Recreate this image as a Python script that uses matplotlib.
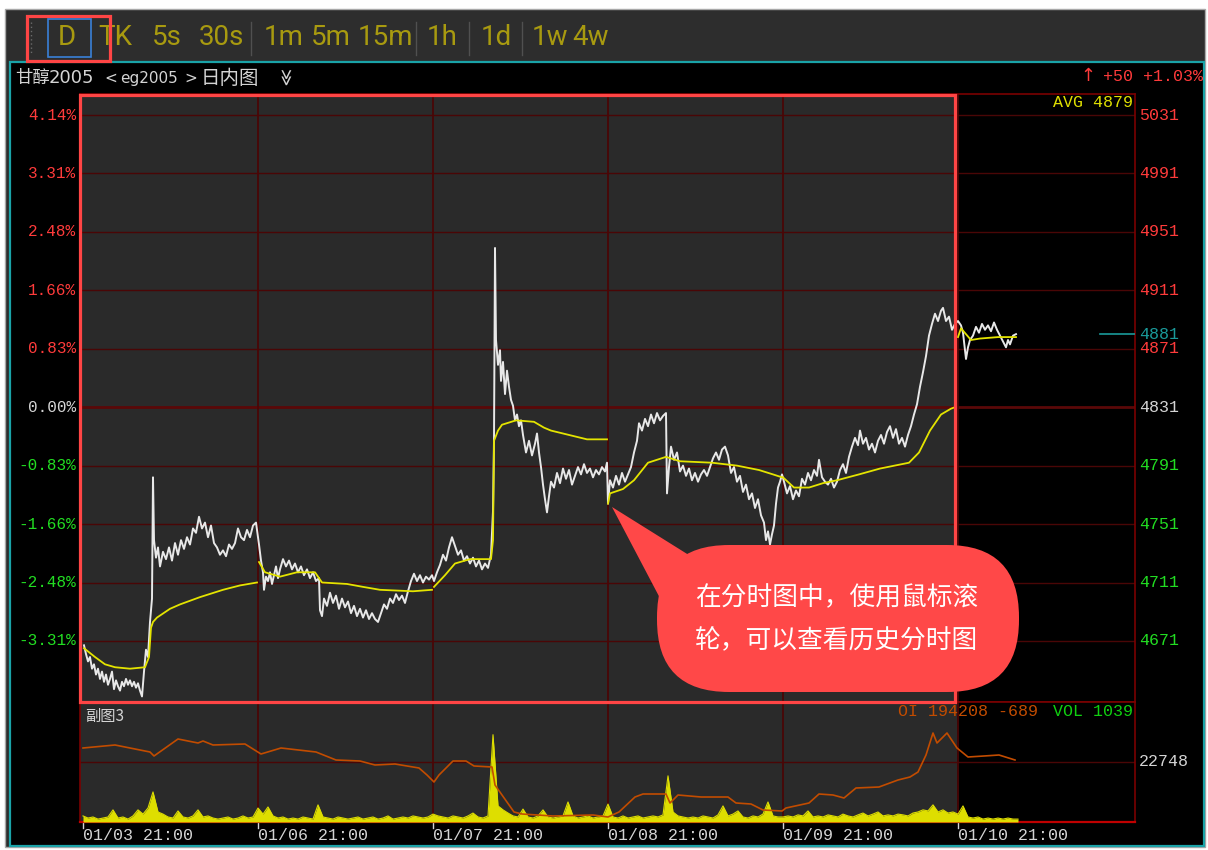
import numpy as np
import matplotlib
matplotlib.use('Agg')
import matplotlib.pyplot as plt
from matplotlib.patches import Rectangle, FancyBboxPatch, Polygon
from matplotlib.transforms import blended_transform_factory as blend

# ---------------- data ----------------
prev_settle = 4831
day_len = 350          # minutes per trading session on the time axis
day_labels = ['01/03 21:00', '01/06 21:00', '01/07 21:00',
              '01/08 21:00', '01/09 21:00', '01/10 21:00']
grid_prices = [4671, 4711, 4751, 4791, 4831, 4871, 4911, 4951, 4991, 5031]

# (minute offset within session, price)
price_d1 = [(2,4668),(6,4662),(10,4657),(14,4660),(18,4652),(22,4655),(26,4648),(30,4652),
            (34,4645),(38,4650),(42,4643),(46,4648),(50,4641),(54,4645),(58,4650),(62,4638),
            (66,4644),(70,4640),(74,4637),(78,4643),(82,4640),(86,4645),(90,4641),(94,4644),
            (98,4640),(102,4643),(106,4639),(110,4642),(114,4637),(118,4633),(122,4650),
            (126,4665),(130,4660),(134,4684),(138,4700),(140,4783),(142,4740),(146,4728),
            (150,4735),(154,4722),(160,4732),(166,4727),(172,4735),(178,4726),(184,4738),
            (190,4730),(196,4740),(202,4734),(208,4742),(214,4737),(220,4748),(226,4745),
            (232,4756),(238,4748),(244,4752),(250,4742),(256,4750),(262,4738),(268,4735),
            (274,4730),(280,4733),(286,4729),(292,4737),(298,4734),(304,4738),(310,4748),
            (316,4742),(322,4740),(328,4747),(334,4742),(340,4750),(346,4752)]
price_d2 = [(2,4737),(6,4726),(10,4718),(12,4706),(16,4715),(20,4712),(24,4718),(28,4710),
            (32,4716),(36,4722),(40,4714),(44,4720),(50,4727),(56,4722),(62,4726),(68,4720),
            (74,4724),(80,4718),(86,4722),(92,4716),(98,4720),(104,4714),(110,4718),(116,4712),
            (122,4714),(124,4692),(128,4688),(132,4700),(138,4695),(144,4704),(150,4697),
            (156,4702),(162,4693),(168,4700),(174,4694),(180,4698),(186,4690),(192,4695),
            (198,4688),(204,4693),(210,4687),(216,4692),(222,4686),(228,4690),(234,4686),
            (240,4684),(246,4690),(252,4696),(258,4693),(264,4700),(270,4697),(276,4703),
            (282,4699),(288,4702),(294,4697),(300,4705),(306,4712),(312,4717),(318,4712),
            (324,4716),(330,4711),(336,4715),(342,4713),(348,4716)]
price_d3 = [(2,4712),(8,4718),(14,4723),(20,4730),(26,4726),(32,4735),(38,4742),(44,4736),
            (50,4730),(56,4733),(62,4726),(68,4729),(74,4724),(80,4728),(86,4722),(92,4726),
            (98,4720),(104,4724),(110,4721),(116,4730),(120,4760),(122,4808),(124,4940),
            (126,4877),(130,4860),(134,4870),(136,4849),(140,4862),(144,4840),(148,4856),
            (152,4845),(156,4836),(160,4832),(164,4822),(168,4826),(172,4818),(176,4822),
            (180,4812),(186,4800),(192,4808),(198,4798),(204,4806),(208,4813),(212,4800),
            (216,4790),(220,4778),(224,4768),(228,4759),(232,4770),(236,4780),(242,4776),
            (248,4786),(254,4779),(260,4789),(266,4782),(272,4788),(278,4778),(284,4784),
            (290,4790),(296,4785),(302,4792),(308,4786),(314,4789),(320,4783),(326,4788),
            (332,4785),(338,4790),(344,4787),(348,4793)]
price_d4 = [(0,4765),(4,4781),(10,4776),(16,4784),(22,4778),(28,4786),(34,4780),(40,4785),
            (46,4790),(52,4800),(58,4808),(62,4820),(68,4815),(74,4823),(80,4818),(86,4826),
            (92,4820),(98,4827),(104,4822),(110,4825),(116,4827),(118,4772),(122,4790),
            (126,4804),(132,4795),(138,4800),(144,4787),(150,4791),(156,4784),(162,4789),
            (168,4781),(174,4786),(180,4780),(186,4785),(192,4788),(198,4784),(204,4790),
            (210,4796),(216,4800),(222,4795),(228,4802),(234,4804),(240,4798),(246,4786),
            (252,4790),(258,4780),(264,4784),(270,4773),(276,4778),(282,4768),(288,4772),
            (294,4762),(300,4768),(306,4757),(312,4752),(316,4740),(320,4746),(324,4737),
            (328,4744),(332,4750),(336,4765),(340,4776),(344,4780),(348,4785)]
price_d5 = [(2,4780),(8,4772),(14,4777),(20,4768),(26,4774),(32,4770),(38,4782),(44,4778),
            (50,4786),(56,4781),(62,4788),(68,4784),(72,4795),(78,4783),(84,4780),(90,4778),
            (96,4782),(102,4776),(108,4780),(114,4788),(120,4792),(126,4786),(132,4797),
            (138,4804),(144,4810),(150,4805),(154,4815),(160,4806),(166,4810),(172,4802),
            (178,4806),(184,4800),(190,4808),(196,4812),(202,4806),(208,4814),(214,4818),
            (220,4810),(226,4816),(232,4806),(238,4810),(244,4804),(250,4812),(256,4818),
            (262,4826),(268,4833),(274,4845),(280,4855),(286,4866),(292,4880),(298,4888),
            (304,4895),(310,4890),(316,4897),(320,4899),(326,4890),(332,4893),(338,4884),
            (344,4888)]
price_d6 = [(0,4890),(6,4887),(10,4882),(14,4870),(16,4864),(20,4872),(24,4877),(30,4880),
            (36,4886),(42,4882),(48,4888),(54,4884),(60,4887),(66,4883),(72,4889),(78,4884),
            (84,4880),(90,4876),(96,4872),(100,4877),(104,4874),(110,4880),(116,4881)]

# daily average price line (minute offset, price)
avg_d1 = [(2,4666),(24,4660),(44,4655),(64,4653),(94,4652),(124,4653),(132,4660),(136,4680),
          (140,4684),(148,4687),(174,4693),(194,4696),(234,4701),(280,4706),(314,4709),(348,4711)]
avg_d2 = [(2,4725),(14,4718),(44,4715),(78,4718),(114,4718),(128,4711),(178,4710),(210,4708),
          (244,4706),(310,4705),(348,4706)]
avg_d3 = [(2,4708),(24,4716),(44,4724),(74,4727),(116,4727),(120,4740),(122,4808),(130,4815),
          (138,4819),(166,4822),(202,4821),(222,4817),(236,4815),(272,4812),(308,4809),(348,4809)]
avg_d4 = [(0,4765),(4,4772),(30,4775),(52,4781),(80,4793),(116,4797),(144,4794),(208,4793),
          (258,4791),(302,4788),(330,4785),(348,4783)]
avg_d5 = [(0,4783),(22,4776),(52,4776),(80,4779),(108,4781),(152,4785),(194,4789),(252,4793),
          (272,4800),(294,4815),(316,4826),(336,4830),(344,4831)]
avg_d6 = [(0,4879),(6,4885),(16,4881),(26,4877),(44,4878),(80,4879),(116,4879)]

# open interest (global minute, contracts)
open_interest = [(0,195400),(64,195700),(134,195000),(142,194600),(190,196300),(230,195900),
                 (240,196100),(260,195700),(324,195800),(356,194800),(396,195400),(466,195000),
                 (506,194200),(554,194100),(584,193700),(624,193800),(672,193400),(688,192700),
                 (702,192000),(712,192700),(740,194100),(766,194100),(782,193600),(818,193500),
                 (824,191700),(838,190700),(862,189000),(878,188800),(940,188600),(1020,188700),
                 (1050,188500),(1072,189000),(1104,190500),(1120,190800),(1166,190800),
                 (1174,189900),(1190,190700),(1236,190500),(1290,190500),(1306,189900),
                 (1336,189800),(1360,189200),(1398,189100),(1406,189400),(1452,189900),
                 (1472,190800),(1500,190700),(1522,190400),(1546,191400),(1592,191500),
                 (1630,192200),(1654,192500),(1670,193000),(1686,194700),(1700,196900),
                 (1708,195900),(1728,196900),(1748,195400),(1770,194500),(1802,194600),
                 (1832,194700),(1864,194200)]

# volume per 10-minute bin, in hundreds of lots
vol_bin = 10
volume_h = [23,15,19,11,15,19,46,15,19,11, 23,46,30,53,114,38,30,19,15,42,
            19,15,23,46,19,23,15,11,15,19, 11,15,23,15,19,53,30,57,23,15,
            19,11,15,11,19,15,11,65,19,15, 11,19,15,11,15,19,11,15,19,11,
            15,23,11,15,19,15,23,19,15,19, 30,23,19,15,23,19,15,23,34,19,
            15,23,331,61,46,34,23,19,49,19, 15,23,46,19,15,19,23,76,23,15,
            19,23,15,19,23,68,19,15,23,15, 19,23,15,19,23,19,27,175,38,23,
            19,15,19,15,23,19,15,27,61,23, 30,42,19,15,23,19,30,76,23,19,
            19,23,19,27,23,42,19,23,19,27, 23,19,30,23,19,27,34,23,30,38,
            23,27,23,30,27,23,34,38,46,42, 65,38,46,34,38,30,61,19,15,19,
            11,15,11,15,11,15,11,11]
vol_grid = 22748
oi_text = 'OI 194208 -689'
vol_text = 'VOL 1039'
toolbar_labels = ['D', 'TK', '5s', '30s', '1m', '5m', '15m', '1h', '1d', '1w', '4w']

# ---------------- layout ----------------
W, H = 1208, 850
MONO = ['Liberation Mono', 'DejaVu Sans Mono']
CJK = ['Noto Sans CJK SC', 'DejaVu Sans']
NARROW = ['Liberation Sans Narrow', 'Roboto', 'DejaVu Sans']
RED, GREEN, WHITE = '#ff3b3b', '#22dd22', '#d4d4d4'
GRID = '#4a0606'

fig = plt.figure(figsize=(W / 100, H / 100), dpi=100, facecolor='white')


def frac(x0, y0, x1, y1):
    return [x0 / W, 1 - y1 / H, (x1 - x0) / W, (y1 - y0) / H]


bg = fig.add_axes([0, 0, 1, 1], zorder=0)
bg.set_xlim(0, W); bg.set_ylim(H, 0); bg.axis('off')
bg.add_patch(Rectangle((5, 9), 1200, 838, fc='#2d2d2d', ec='#a8a8a8', lw=1))
bg.add_patch(Rectangle((10, 62), 1194, 784, fc='black', ec='#1aa3a8', lw=1.6))

# toolbar
toolbar_x = [58, 98, 152, 199, 264, 311, 358, 427, 481, 532, 572]
for lab, x in zip(toolbar_labels, toolbar_x):
    bg.text(x, 37, lab, color='#a89a10', fontsize=20, family=NARROW, ha='left', va='center')
for x in [251, 416, 469, 522]:
    bg.plot([x, x], [22, 55], color='#505050', lw=1)
bg.plot([31, 31], [22, 55], color='#6a6a6a', lw=1, ls=(0, (1, 2)))

# header row
bg.text(15, 78, '甘醇', color=WHITE, fontsize=12.5, family=CJK, ha='left', va='center')
bg.text(49, 78, '2005', color=WHITE, fontsize=13, family='DejaVu Sans', ha='left', va='center')
bg.text(104, 78, '<', color=WHITE, fontsize=11, family='DejaVu Sans', ha='left', va='center')
bg.text(120, 78, 'eg2005', color=WHITE, fontsize=11, family='DejaVu Sans', ha='left', va='center')
bg.text(184, 78, '>', color=WHITE, fontsize=11, family='DejaVu Sans', ha='left', va='center')
bg.text(201, 78, '日内图', color=WHITE, fontsize=14, family=CJK, ha='left', va='center')
bg.text(284, 78, '≫', color=WHITE, fontsize=12, rotation=-90, ha='center', va='center')

# ---------------- main price chart ----------------
ax = fig.add_axes(frac(80, 94, 1135, 702), zorder=2)
ax.set_facecolor('black')
ax.set_xlim(-6, 2104)
ax.set_ylim(4629.2, 5045.4)
ax.axvspan(-6, 1744, color='#2a2a2a', lw=0, zorder=0)
for p in grid_prices:
    ax.axhline(p, color='#5a0808' if p == prev_settle else GRID,
               lw=2.0 if p == prev_settle else 1.0, zorder=1)
for i in range(1, 6):
    ax.axvline(i * day_len, color=GRID, lw=1.3, zorder=1)
ax.set_xticks([]); ax.set_yticks([])
for s in ax.spines.values():
    s.set_color('#7a0000'); s.set_linewidth(1.2)

price_days = [price_d1, price_d2, price_d3, price_d4, price_d5, price_d6]
avg_days = [avg_d1, avg_d2, avg_d3, avg_d4, avg_d5, avg_d6]
pt, pp = [], []
for i, day in enumerate(price_days):
    for off, p in day:
        pt.append(i * day_len + off)
        pp.append(p)
ax.plot(pt, pp, color='#e8e8e8', lw=1.4, zorder=3)
for i, day in enumerate(avg_days):
    ax.plot([i * day_len + o for o, _ in day], [p for _, p in day],
            color='#e4e400', lw=1.3, zorder=4)

last_price = pp[-1]
last_avg = avg_d6[-1][1]
ax.axhline(last_price, xmin=(1100 - 80) / 1055, xmax=1.0, color='#1a9a9a', lw=1.2, zorder=5)

tl = blend(bg.transData, ax.transData)
for p in grid_prices:
    pct = (p - prev_settle) / prev_settle * 100
    col = RED if p > prev_settle else (GREEN if p < prev_settle else WHITE)
    ax.text(76, p, f'{pct:.2f}%', transform=tl, ha='right', va='center',
            color=col, fontsize=11.5, family=MONO, clip_on=False)
    ax.text(1139, p, f'{p}', transform=tl, ha='left', va='center',
            color=col, fontsize=12, family=MONO, clip_on=False)
ax.text(1139, last_price, f'{last_price}', transform=tl, ha='left', va='center',
        color='#1a9a9a', fontsize=12, family=MONO, clip_on=False)

chg = last_price - prev_settle
bg.text(1203, 76, f'{chg:+d} {chg / prev_settle * 100:+.2f}%', color=RED, fontsize=12,
        family=MONO, ha='right', va='center')
bg.text(1088, 76, '↑', color=RED, fontsize=13, family='DejaVu Sans', ha='center', va='center')

# ---------------- sub chart (volume + open interest) ----------------
sub = fig.add_axes(frac(80, 702, 1135, 822), zorder=2)
sub.set_facecolor('black')
sub.set_xlim(-6, 2104)
sub.set_ylim(0, vol_grid / 100 * 2)
sub.axvspan(-6, 1748, color='#2a2a2a', lw=0, zorder=0)
sub.axhline(vol_grid / 100, color=GRID, lw=1.0, zorder=1)
for i in range(1, 6):
    sub.axvline(i * day_len, color=GRID, lw=1.3, zorder=1)
sub.set_xticks([]); sub.set_yticks([])
for s in sub.spines.values():
    s.set_color('#7a0000'); s.set_linewidth(1.2)
sub.spines['bottom'].set_color('#c00000'); sub.spines['bottom'].set_linewidth(1.6)
vt = np.arange(len(volume_h)) * vol_bin
sub.fill_between(vt, 0, volume_h, color='#dede00', lw=0, zorder=3)
sub.plot(vt, volume_h, color='#dede00', lw=0.8, zorder=3)

oi_ax = sub.twinx()
oi_ax.set_ylim(188000, 200000)
oi_ax.axis('off')
oi_ax.plot([t for t, _ in open_interest], [v for _, v in open_interest],
           color='#c24c00', lw=1.2, zorder=4)

sl = blend(bg.transData, sub.transData)
sub.text(1139, vol_grid / 100, f'{vol_grid}', transform=sl, ha='left', va='center',
         color=WHITE, fontsize=12, family=MONO, clip_on=False)

bx = blend(sub.transData, bg.transData)
for i, lab in enumerate(day_labels):
    t = i * day_len
    sub.plot([t, t], [823, 828], transform=bx, color=WHITE, lw=1, clip_on=False)
    sub.text(t, 836, lab, transform=bx, ha='left', va='center', color=WHITE,
             fontsize=12, family=MONO, clip_on=False)

# ---------------- overlay ----------------
ov = fig.add_axes([0, 0, 1, 1], zorder=10)
ov.set_xlim(0, W); ov.set_ylim(H, 0); ov.axis('off')
ov.patch.set_alpha(0)
ov.text(1133, 102, f'AVG {last_avg}', color='#e0e000', fontsize=12, family=MONO,
        ha='right', va='center')
ov.text(85, 716, '副图3', color=WHITE, fontsize=11, family=CJK, ha='left', va='center')
ov.text(1038, 712, oi_text, color='#c24c00', fontsize=12, family=MONO, ha='right', va='center')
ov.text(1133, 712, vol_text, color='#10d010', fontsize=12, family=MONO, ha='right', va='center')

ov.add_patch(Rectangle((80, 95), 875, 607, fill=False, ec='#ff4545', lw=2.3))
ov.add_patch(Rectangle((27, 16), 83, 45, fill=False, ec='#ff4545', lw=2.3))
ov.add_patch(Rectangle((48, 19), 43, 38, fill=False, ec='#3a80d8', lw=1.2))

bub = '#ff4848'
ov.add_patch(Polygon([(612, 507), (700, 562), (662, 602)], closed=True, fc=bub, ec='none'))
ov.add_patch(FancyBboxPatch((657, 545), 362, 147, boxstyle='round,pad=0,rounding_size=72',
                            fc=bub, ec='none'))
ov.text(695, 598, '在分时图中，使用鼠标滚', color='white', fontsize=18.5, family=CJK,
        ha='left', va='center')
ov.text(695, 641, '轮，可以查看历史分时图', color='white', fontsize=18.5, family=CJK,
        ha='left', va='center')

fig.savefig('out.png', dpi=100, facecolor='white')
